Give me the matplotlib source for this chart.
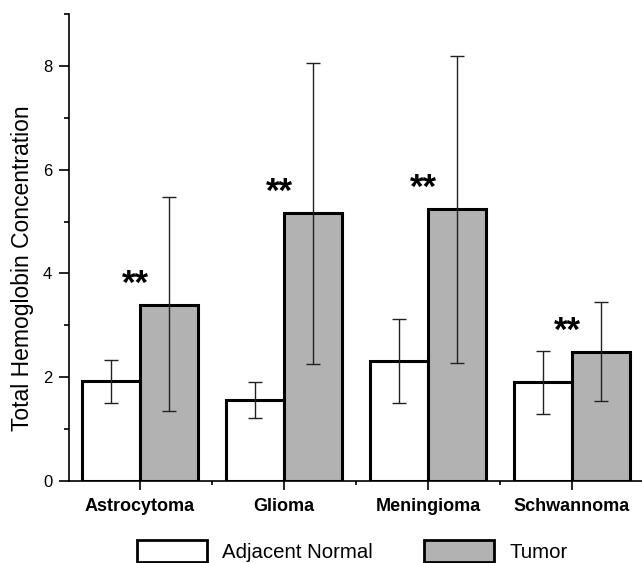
import numpy as np
import matplotlib
matplotlib.use('Agg')
import matplotlib.pyplot as plt
from matplotlib.patches import Patch
from matplotlib.ticker import MultipleLocator

plt.rcParams['font.family'] = ['Liberation Sans', 'DejaVu Sans']

# valeurs
tumor_types = ['Astrocytoma', 'Glioma', 'Meningioma', 'Schwannoma']
normal_mean = [1.93, 1.56, 2.31, 1.90]
normal_low = [1.50, 1.22, 1.51, 1.30]
normal_high = [2.33, 1.90, 3.12, 2.51]
tumor_mean = [3.40, 5.17, 5.24, 2.49]
tumor_low = [1.34, 2.25, 2.27, 1.54]
tumor_high = [5.48, 8.06, 8.20, 3.45]
significance = ['**', '**', '**', '**']

x = np.arange(len(tumor_types))
w = 0.4
gray = '#b2b2b2'

fig = plt.figure(figsize=(6.42, 5.63), dpi=100)
ax = fig.add_axes([0.1075, 0.1456, 0.8956, 0.8295])

nm = np.array(normal_mean)
tm = np.array(tumor_mean)
ax.bar(x - w / 2, nm, w, color='white', edgecolor='black', linewidth=2.2, zorder=2)
ax.bar(x + w / 2, tm, w, color=gray, edgecolor='black', linewidth=2.2, zorder=2)

ax.errorbar(x - w / 2, nm, yerr=[nm - np.array(normal_low), np.array(normal_high) - nm],
            fmt='none', ecolor='#222222', elinewidth=1, capsize=5, capthick=1, zorder=3)
ax.errorbar(x + w / 2, tm, yerr=[tm - np.array(tumor_low), np.array(tumor_high) - tm],
            fmt='none', ecolor='#222222', elinewidth=1, capsize=5, capthick=1, zorder=3)

for i, s in enumerate(significance):
    ax.annotate(s, xy=(x[i] - 0.03, tm[i]), xytext=(0, 3), textcoords='offset points',
                ha='center', va='bottom', fontsize=25, fontweight='bold')

ax.set_xlim(-0.493, 3.5)
ax.set_ylim(0, 9)
ax.set_xticks(x)
ax.set_xticklabels(tumor_types, fontsize=13, fontweight='bold')
ax.set_xticks(x[:-1] + 0.5, minor=True)
ax.yaxis.set_major_locator(MultipleLocator(2))
ax.yaxis.set_minor_locator(MultipleLocator(1))
ax.tick_params(axis='y', which='major', length=7, width=1.2, labelsize=12, pad=5)
ax.tick_params(axis='y', which='minor', length=3.5, width=1.2)
ax.tick_params(axis='x', which='major', length=6.5, width=1.2, pad=6)
ax.tick_params(axis='x', which='minor', length=3, width=1.2)

for side in ['top', 'right']:
    ax.spines[side].set_visible(False)
for side in ['left', 'bottom']:
    ax.spines[side].set_linewidth(1.2)

ax.set_ylabel('Total Hemoglobin Concentration', fontsize=16.5)
ax.yaxis.set_label_coords(-0.061, 0.456)

handles = [Patch(facecolor='white', edgecolor='black', linewidth=2, label='Adjacent Normal'),
           Patch(facecolor=gray, edgecolor='black', linewidth=2, label='Tumor')]
fig.legend(handles=handles, loc='center', bbox_to_anchor=(0.549, 0.021), ncol=2,
           frameon=False, fontsize=14.7, handlelength=3.43, handleheight=1.25,
           columnspacing=2.5, handletextpad=0.74, borderaxespad=0, borderpad=0)

fig.savefig('out.png', dpi=100)
